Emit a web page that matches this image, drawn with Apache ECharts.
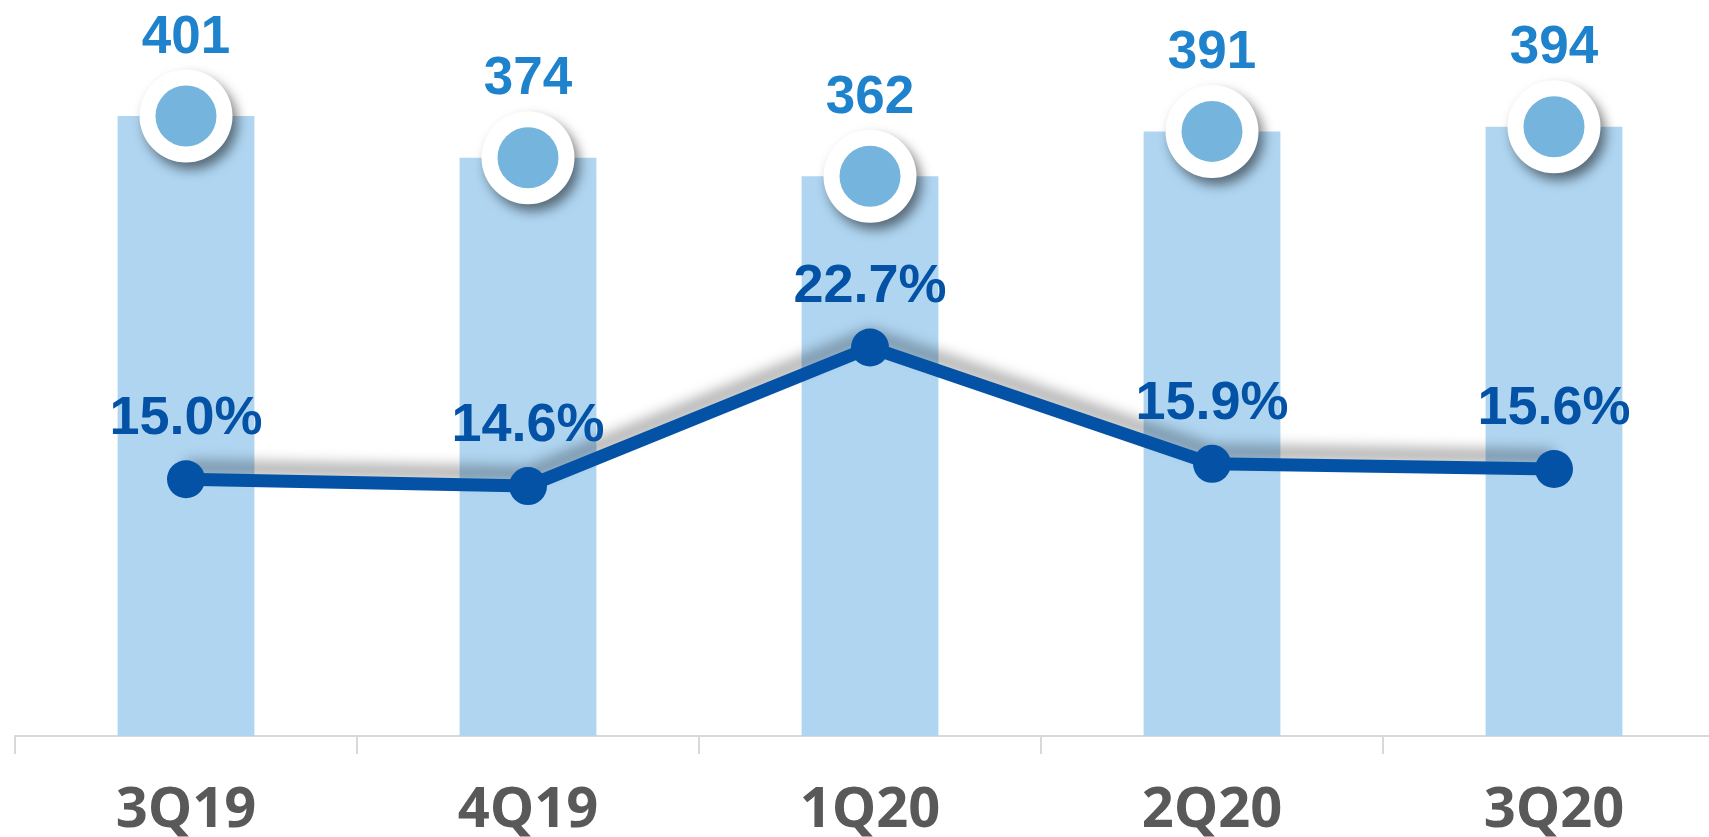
<!DOCTYPE html>
<html>
<head>
<meta charset="utf-8">
<script src="https://cdn.jsdelivr.net/npm/echarts@6/dist/echarts.min.js"></script>
<style>
  html, body { margin: 0; padding: 0; background: #ffffff; }
  #chart { width: 1709px; height: 837px; }
</style>
</head>
<body>
<div id="chart"></div>
<script>
const categories = ['3Q19', '4Q19', '1Q20', '2Q20', '3Q20'];
const totals = [401, 374, 362, 391, 394];
const ratios = [15.0, 14.6, 22.7, 15.9, 15.6];

const chart = echarts.init(document.getElementById('chart'));

const option = {
  backgroundColor: '#ffffff',
  animation: false,
  grid: {
    left: 15,
    width: 1710,
    top: 0,
    bottom: 101,
    outerBoundsMode: 'none'
  },
  xAxis: {
    type: 'category',
    data: categories,
    axisLine: {
      lineStyle: { color: '#D9D9D9', width: 2 }
    },
    axisTick: {
      show: true,
      length: 18,
      lineStyle: { color: '#D9D9D9', width: 2 }
    },
    axisLabel: {
      margin: 47,
      color: '#595959',
      fontFamily: 'Open Sans',
      fontWeight: 'bold',
      fontSize: 56
    }
  },
  yAxis: [{
    type: 'value',
    min: 0,
    max: 476,
    show: false
  }, {
    type: 'value',
    min: 0,
    max: 43,
    show: false
  }],
  series: [{
    name: 'total',
    type: 'bar',
    data: totals,
    barWidth: '40%',
    itemStyle: { color: '#AFD5F1' },
    z: 1
  }, {
    name: 'total-ring',
    type: 'scatter',
    data: totals,
    symbolSize: 93,
    itemStyle: {
      color: '#ffffff',
      opacity: 1,
      shadowColor: 'rgba(0,0,0,0.5)',
      shadowBlur: 12,
      shadowOffsetX: 5,
      shadowOffsetY: 7
    },
    label: {
      show: true,
      position: 'top',
      distance: 5,
      color: '#1E82CC',
      fontFamily: 'Liberation Sans',
      fontWeight: 'bold',
      fontSize: 53
    },
    z: 3
  }, {
    name: 'total-dot',
    type: 'scatter',
    data: totals,
    symbolSize: 61,
    itemStyle: { color: '#74B4DD', opacity: 1 },
    z: 4
  }, {
    name: 'ratio',
    type: 'line',
    yAxisIndex: 1,
    data: ratios,
    symbol: 'circle',
    symbolSize: 38,
    lineStyle: {
      color: '#0352A5',
      width: 13,
      shadowColor: 'rgba(0,0,0,0.35)',
      shadowBlur: 14,
      shadowOffsetY: -12
    },
    itemStyle: { color: '#0352A5' },
    label: {
      show: true,
      position: 'top',
      distance: 14,
      color: '#0352A5',
      fontFamily: 'Liberation Sans',
      fontWeight: 'bold',
      fontSize: 54,
      formatter: function (p) { return p.value.toFixed(1) + '%'; }
    },
    z: 5
  }]
};

chart.setOption(option);
</script>
</body>
</html>
